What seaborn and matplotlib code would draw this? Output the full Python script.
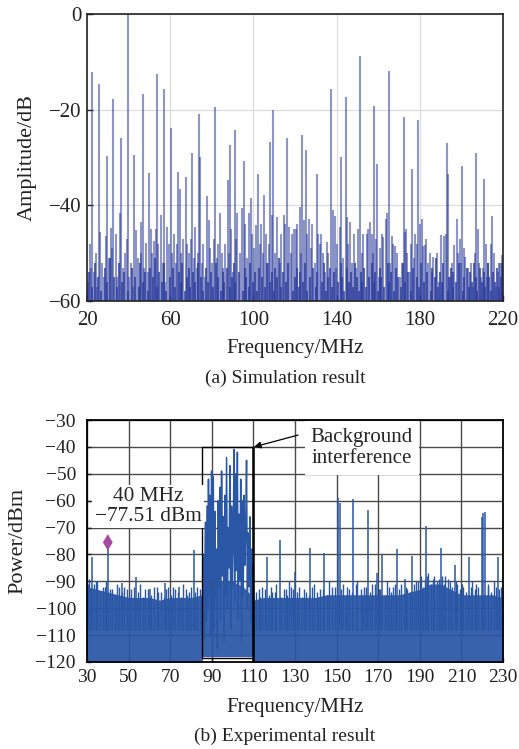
import numpy as np
import pandas as pd
import matplotlib
matplotlib.use('Agg')
import matplotlib.pyplot as plt
import seaborn as sns

# ---------------- (a) simulation spectrum ----------------
sim_major_f = [22.5, 25.6, 29.5, 32.7, 36.5, 39.6, 42.8, 46.7, 49.8, 53.5,
               56.9, 60.5, 63.7, 64.7, 67.6, 70.6, 74.0, 74.5, 77.7, 81.5,
               84.1, 87.9, 88.6, 91.0, 95.5, 98.8, 102.4, 105.1, 108.1, 109.4,
               116.3, 122.2, 123.5, 125.3, 130.4, 137.3, 142.2, 144.3, 151.3, 158.1,
               159.4, 165.0, 172.4, 176.4, 179.1, 193.2, 193.7, 200.3, 207.2, 211.0,
               214.7]
sim_major_db = [-12.1, -14.6, -29.6, -17.8, -26.0, 0.0, -29.5, -16.8, -33.2, -12.5,
                -15.6, -23.9, -33.0, -36.5, -34.0, -29.1, -21.0, -29.8, -38.0, -19.5,
                -41.7, -34.6, -27.4, -24.3, -30.7, -38.5, -33.5, -37.8, -26.7, -20.1,
                -25.9, -40.3, -25.3, -28.4, -33.5, -15.6, -30.0, -17.4, -8.7, -19.2,
                -31.4, -11.9, -21.6, -32.5, -22.2, -26.9, -33.5, -31.7, -29.0, -34.4,
                -42.2]

sim_minor_f = [20.5, 21.3, 22.0, 23.2, 24.1, 24.8, 26.3, 27.2, 28.2, 29.0,
               30.4, 31.6, 32.2, 33.8, 34.6, 35.8, 37.2, 38.4, 39.0, 40.4,
               41.3, 42.1, 43.6, 44.3, 45.8, 46.2, 47.5, 48.5, 49.2, 50.6,
               51.3, 52.4, 53.0, 54.2, 55.4, 56.3, 57.6, 58.5, 59.4, 60.9,
               61.7, 62.6, 63.3, 65.4, 66.2, 68.3, 69.1, 70.1, 71.4, 72.0,
               72.8, 73.6, 75.2, 76.0, 76.8, 78.5, 79.3, 80.3, 81.0, 82.4,
               83.2, 84.8, 85.6, 86.4, 88.1, 89.3, 90.0, 91.7, 92.3, 93.6,
               94.3, 96.2, 97.0, 98.0, 99.4, 100.5, 101.3, 103.1, 103.8, 104.5,
               106.0, 106.8, 107.4, 108.8, 110.2, 111.5, 112.7, 113.5, 114.8, 115.2,
               117.1, 117.9, 118.4, 119.5, 120.3, 121.2, 122.8, 124.3, 126.0, 126.6,
               127.7, 128.3, 129.4, 131.1, 131.9, 132.3, 133.4, 134.3, 135.4, 136.1,
               138.2, 139.3, 139.9, 140.4, 141.5, 143.1, 145.0, 145.7, 146.5, 147.6,
               148.3, 149.2, 150.4, 152.0, 152.9, 154.5, 155.1, 156.1, 156.8, 157.4,
               158.8, 160.2, 161.0, 161.9, 162.3, 163.7, 164.4, 165.8, 166.5, 167.1,
               168.2, 169.0, 170.3, 171.3, 173.1, 173.5, 174.0, 175.1, 175.8, 177.2,
               177.9, 178.5, 180.0, 180.9, 181.6, 182.5, 183.1, 184.1, 184.9, 185.8,
               186.5, 188.4, 189.2, 190.2, 191.6, 192.4, 194.5, 195.4, 196.6, 197.9,
               198.5, 199.1, 199.8, 201.4, 201.8, 203.1, 204.8, 205.7, 206.4, 207.9,
               208.5, 209.4, 210.4, 211.6, 212.3, 213.0, 214.0, 215.6, 216.4, 217.5,
               218.2, 218.6, 219.4, 219.9]
sim_minor_db = [-56, -48, -53, -54, -50, -57, -45.5, -52, -55, -46.5,
                -51, -44.8, -49, -46, -55, -41.6, -53, -50, -47, -55,
                -52, -57, -45.2, -51, -43.5, -50, -53, -47.9, -54, -45,
                -50, -47.5, -45, -48, -42, -52, -56, -44.5, -48, -50,
                -46, -52, -48, -50, -47, -48, -50, -47, -51, -44.6,
                -53, -50, -52, -48, -55, -43, -49, -52, -47, -51,
                -48, -50, -53, -48, -50, -45, -54, -47, -41.7, -50,
                -40.5, -44, -51, -41.7, -46, -49, -44.1, -48, -44, -50,
                -46, -52, -48, -42, -50, -42.4, -52, -46, -42, -43.9,
                -44.5, -50, -45.9, -45, -45, -44, -50, -43, -46, -42.8,
                -49, -43.8, -52, -46, -48, -45.9, -50, -54, -47.6, -50,
                -41, -42.2, -53, -48, -44.5, -51, -42.5, -48, -43.4, -52,
                -46, -53, -45, -50, -46, -45.9, -45, -43.4, -46, -50,
                -47, -55, -49, -46, -46.6, -42.9, -41.5, -52, -46.5, -48,
                -48.5, -50, -55, -52, -45.5, -45, -50, -54, -48, -51,
                -46, -48, -44, -42.9, -48.5, -48.3, -47, -52, -50, -54,
                -50.8, -50, -56, -46.1, -46.5, -46, -55, -52, -48.3, -42.8,
                -50, -47, -52, -49, -50.8, -53, -52, -57, -50, -45,
                -52, -55, -53, -48, -55, -52, -48, -50, -57, -54,
                -52.1, -52, -50.4, -56]

sim_base_f = [20.9, 22.6, 23.7, 25.2, 26.8, 28.6, 29.6, 31.0, 32.9, 34.2,
              35.2, 36.9, 38.0, 39.9, 41.7, 42.9, 44.8, 45.4, 47.1, 48.0,
              49.5, 50.2, 51.8, 52.8, 53.8, 54.8, 55.9, 57.1, 58.1, 59.9,
              61.3, 62.2, 64.1, 65.0, 65.9, 67.1, 67.9, 68.8, 69.6, 70.9,
              71.8, 73.2, 74.9, 75.6, 77.3, 78.1, 79.8, 80.7, 81.8, 82.8,
              84.4, 85.2, 86.0, 87.2, 88.9, 89.8, 90.5, 91.3, 93.0, 95.0,
              95.8, 96.6, 97.9, 98.4, 99.9, 100.9, 101.8, 102.8, 104.1, 105.5,
              106.4, 107.8, 109.0, 109.8, 110.6, 111.3, 112.2, 113.1, 114.2, 115.8,
              116.7, 118.8, 119.9, 120.8, 121.7, 122.4, 123.9, 124.8, 125.7, 127.2,
              128.8, 129.9, 130.7, 132.8, 133.9, 134.8, 135.8, 136.7, 137.7, 138.6,
              140.9, 141.9, 142.7, 143.6, 144.8, 146.1, 147.1, 147.9, 148.8, 149.7,
              150.8, 151.6, 152.4, 153.4, 154.0, 155.5, 157.0, 157.8, 158.4, 159.8,
              160.7, 161.5, 162.9, 164.8, 165.4, 166.1, 167.6, 168.7, 169.6, 170.8,
              171.8, 172.7, 174.5, 176.0, 176.8, 178.8, 179.5, 180.4, 182.0, 183.6,
              185.3, 186.1, 187.2, 187.9, 188.8, 189.7, 190.8, 191.2, 193.5, 194.0,
              195.0, 195.9, 196.2, 197.4, 198.9, 200.7, 201.1, 202.6, 203.6, 204.3,
              205.2, 206.0, 206.9, 207.5, 209.0, 209.8, 210.8, 211.3, 212.7, 213.5,
              214.4, 215.1, 216.0, 216.9, 217.9, 218.9, 219.6]
sim_base_db = [-54, -57, -52, -55, -58, -53, -56, -51, -55, -57,
               -52, -56, -54, -58, -53, -55, -57, -52, -56, -54,
               -58, -53, -55, -51, -57, -54, -56, -52, -58, -55,
               -53, -57, -54, -56, -52, -58, -55, -53, -57, -54,
               -56, -52, -55, -58, -53, -56, -54, -57, -52, -55,
               -58, -54, -56, -53, -57, -55, -52, -56, -54, -58,
               -53, -55, -57, -52, -56, -54, -58, -53, -55, -57,
               -52, -56, -54, -58, -53, -55, -51, -57, -54, -56,
               -52, -58, -55, -53, -57, -54, -56, -52, -58, -55,
               -53, -57, -54, -56, -52, -58, -55, -53, -57, -54,
               -56, -52, -55, -58, -53, -56, -54, -57, -52, -55,
               -58, -54, -56, -53, -57, -55, -52, -56, -54, -58,
               -53, -55, -57, -52, -56, -54, -58, -53, -55, -57,
               -52, -56, -54, -58, -53, -55, -57, -52, -56, -54,
               -58, -53, -55, -51, -57, -54, -56, -52, -58, -55,
               -53, -57, -54, -56, -52, -58, -55, -53, -57, -54,
               -56, -52, -55, -58, -53, -56, -54, -57, -52, -55,
               -58, -54, -56, -53, -57, -55, -52]
sim_floor_db = -60
sim_xticks = [20, 60, 100, 140, 180, 220]
sim_yticks = [-60, -40, -20, 0]

# ---------------- (b) experimental spectrum ----------------
exp_spike_f = [32.6, 40.0, 46.7, 53.6, 60.5, 67.5, 74.3, 81.3, 116.4, 122.8,
               130.1, 137.4, 144.1, 150.9, 151.5, 158.0, 165.2, 169.2, 172.0, 178.9,
               182.9, 186.1, 192.8, 200.0, 206.8, 213.8, 219.8, 220.5, 221.3, 227.8]
exp_spike_db = [-80.8, -77.51, -90.7, -88.3, -92.9, -90.7, -92.0, -78.3, -81.1, -74.6,
                -86.4, -77.7, -79.6, -58.9, -61.0, -59.3, -63.5, -87.0, -80.2, -78.1,
                -89.0, -80.4, -69.4, -77.7, -84.0, -80.8, -66.0, -64.5, -64.3, -80.8]

exp_fuzz_f = [31.0, 33.5, 35.0, 37.5, 42.0, 44.5, 48.0, 51.0, 55.5, 58.0,
              62.0, 65.5, 69.0, 72.5, 76.0, 79.0, 83.0, 112.5, 114.0, 119.0,
              121.0, 124.5, 127.0, 129.0, 132.0, 135.5, 139.0, 142.0, 146.5, 149.0,
              153.0, 156.0, 160.0, 163.0, 167.0, 171.0, 174.0, 177.0, 181.0, 184.0,
              188.0, 190.5, 194.0, 197.0, 199.0, 202.0, 204.5, 208.0, 211.0, 215.0,
              218.0, 223.0, 225.5, 229.0,
              30.5, 32.0, 34.2, 36.3, 38.6, 39.3, 41.0, 43.3, 45.6, 47.0,
              49.3, 50.2, 52.5, 54.4, 56.8, 59.4, 61.0, 63.5, 64.3, 66.8,
              68.2, 70.4, 71.3, 73.6, 75.2, 77.4, 78.3, 80.2, 82.0, 84.3,
              111.2, 113.3, 115.5, 117.5, 118.3, 120.2, 123.2, 125.6, 126.3, 128.2,
              131.0, 133.4, 134.5, 136.5, 138.3, 140.4, 141.2, 143.5, 145.3, 147.8,
              152.3, 154.3, 155.2, 157.3, 159.2, 161.5, 162.3, 164.2, 166.0, 168.4,
              170.3, 173.2, 175.3, 176.3, 178.2, 180.1, 182.3, 183.2, 185.5, 187.3,
              189.3, 191.5, 192.3, 193.4, 195.2, 196.3, 198.2, 200.8, 201.5, 203.4,
              205.3, 207.2, 209.3, 210.2, 212.4, 214.5, 216.3, 217.2, 222.6, 224.3,
              226.5, 228.2]
exp_fuzz_db = [-89, -91, -90, -92, -93, -91, -92, -93, -91, -93,
               -92, -94, -92, -93, -91, -94, -92, -93, -92, -94,
               -91, -93, -90, -93, -92, -94, -91, -93, -90, -92,
               -91, -93, -90, -92, -91, -93, -90, -92, -91, -93,
               -90, -88, -87, -88, -89, -88, -90, -91, -92, -90,
               -92, -91, -90, -92,
               -91, -93, -90, -94, -92, -90, -93, -95, -92, -94,
               -93, -95, -92, -94, -96, -93, -95, -92, -94, -96,
               -93, -95, -92, -94, -96, -93, -95, -92, -94, -93,
               -94, -96, -93, -95, -92, -94, -96, -93, -95, -92,
               -94, -96, -93, -95, -92, -94, -96, -93, -95, -92,
               -93, -95, -92, -94, -91, -93, -95, -92, -94, -91,
               -93, -95, -92, -94, -91, -93, -95, -92, -94, -91,
               -90, -92, -89, -88, -91, -89, -90, -88, -91, -89,
               -92, -90, -93, -91, -94, -92, -93, -91, -92, -94,
               -92, -93]

noise_left_f = [30, 35, 40, 45, 50, 55, 60, 65, 70, 75, 80, 85.5]
noise_left_top = [-92, -93, -94, -95, -96, -96, -96, -97, -96, -96, -96, -95]
noise_left_bot = [-120, -120, -120, -120, -120, -120, -120, -120, -120, -120, -120, -120]
noise_right_f = [110, 115, 120, 125, 130, 135, 140, 145, 150, 155, 160, 165, 170,
                 175, 180, 185, 190, 195, 200, 205, 210, 215, 220, 225, 230]
noise_right_top = [-97, -96, -96, -96, -96, -96, -96, -95, -95, -95, -95, -95, -95,
                   -95, -95, -94, -93, -91, -91, -93, -95, -95, -95, -95, -96]
noise_right_bot = [-120, -120, -120, -120, -120, -120, -120, -120, -120, -120, -120, -120, -120,
                   -120, -120, -120, -120, -120, -120, -120, -120, -120, -120, -120, -120]

band_f = [85.6, 86.0, 86.4, 86.9, 87.3, 87.7, 88.1, 88.4, 88.8, 89.2,
          89.5, 89.9, 90.3, 90.7, 91.1, 91.5, 91.9, 92.3, 92.7, 93.1,
          93.5, 93.9, 94.3, 94.7, 95.1, 95.5, 95.9, 96.3, 96.7, 97.1,
          97.5, 97.9, 98.3, 98.7, 99.1, 99.5, 99.9, 100.3, 100.7, 101.1,
          101.5, 101.9, 102.3, 102.7, 103.1, 103.5, 103.9, 104.3, 104.7, 105.1,
          105.5, 105.9, 106.3, 106.7, 107.1, 107.5, 107.9, 108.3, 108.7, 109.1,
          109.5, 109.9, 110.2]
band_db = [-100, -80, -112, -68, -105, -62, -100, -52, -95, -58,
           -110, -49, -90, -51, -108, -64, -96, -78, -115, -60,
           -92, -55, -104, -49, -88, -66, -112, -58, -95, -44,
           -100, -70, -85, -47, -108, -62, -92, -75, -41, -98,
           -50, -86, -42, -104, -65, -90, -52, -112, -60, -95,
           -58, -84, -70, -45, -100, -72, -92, -66, -105, -78,
           -110, -84, -100]
band_fill_f = [85.5, 90, 95, 100, 105, 110]
band_fill_top = [-96, -92, -90, -90, -92, -96]
band_fill_bot = [-118, -118, -118, -118, -118, -118]

box_f = [85.5, 110.0]
box_db = [-118.5, -40.0]
marker_f, marker_db = 40.0, -75.5
exp_spike_base = -108
exp_xticks = [30, 50, 70, 90, 110, 130, 150, 170, 190, 210, 230]
exp_yticks = [-120, -110, -100, -90, -80, -70, -60, -50, -40, -30]

# ---------------- style ----------------
sns.set_theme(style='white')
plt.rcParams['font.family'] = ['Liberation Serif', 'DejaVu Serif']
plt.rcParams['axes.unicode_minus'] = True

fig = plt.figure(figsize=(5.19, 7.49), dpi=100)
ax1 = fig.add_axes([87/519, 1-301/749, 416/519, 287/749])
ax2 = fig.add_axes([87/519, 1-662/749, 416/519, 242/749])

sim_color = '#2f3f9e'
exp_color = '#2a56a6'

# (a)
ax1.vlines(sim_base_f, sim_floor_db, sim_base_db, color='#27399a', alpha=0.75, lw=1.5, zorder=2)
ax1.vlines(sim_minor_f, sim_floor_db, sim_minor_db, color=sim_color, alpha=0.55, lw=1.5, zorder=2)
ax1.vlines(sim_major_f, sim_floor_db, sim_major_db, color=sim_color, alpha=0.55, lw=1.5, zorder=2)
ax1.set_xlim(20, 220)
ax1.set_ylim(-60, 0)
ax1.set_xticks(sim_xticks)
ax1.set_yticks(sim_yticks)
ax1.grid(True, color='#dddddd', lw=0.9, zorder=0)
ax1.set_axisbelow(True)
for s in ax1.spines.values():
    s.set_color('#222222')
    s.set_linewidth(1.2)
ax1.tick_params(direction='in', length=4, width=1, labelsize=15, colors='#222222',
                bottom=True, left=True, top=False, right=False)
ax1.tick_params(axis='x', pad=7)
ax1.tick_params(axis='y', pad=4)
ax1.set_xlabel('Frequency/MHz', fontsize=15, color='#222222')
ax1.xaxis.set_label_coords(0.5, -0.133)
ax1.set_ylabel('Amplitude/dB', fontsize=16, color='#222222')
ax1.yaxis.set_label_coords(-0.12, 0.5)

# (b)
ax2.fill_between(noise_left_f, noise_left_bot, noise_left_top, color=exp_color, alpha=0.93, lw=0, zorder=2)
ax2.fill_between(noise_right_f, noise_right_bot, noise_right_top, color=exp_color, alpha=0.93, lw=0, zorder=2)
ax2.fill_between(band_fill_f, band_fill_bot, band_fill_top, color=exp_color, alpha=0.93, lw=0, zorder=2)
ax2.vlines(exp_fuzz_f, exp_spike_base, exp_fuzz_db, color=exp_color, lw=1.0, zorder=2)
ax2.vlines(exp_spike_f, exp_spike_base, exp_spike_db, color=exp_color, lw=1.1, zorder=2)
sns.lineplot(x=band_f, y=band_db, sort=False, estimator=None, color=exp_color, lw=1.1, ax=ax2, zorder=3)
sns.scatterplot(x=[marker_f], y=[marker_db], marker='d', s=70, color='#a54aa0', edgecolor='none', ax=ax2, zorder=6)

# box around background interference
ax2.plot([box_f[0], box_f[0], box_f[1]], [box_db[0], box_db[1], box_db[1]], color='black', lw=1.0, zorder=5)
ax2.plot([box_f[0], box_f[1]], [box_db[0], box_db[0]], color='black', lw=1.0, zorder=5)
ax2.plot([box_f[1], box_f[1]], [box_db[1], -120], color='black', lw=1.8, zorder=5)

ax2.text(59.3, -62.2, '40 MHz\n\u221277.51 dBm', fontsize=15.4, ha='center', va='center',
         linespacing=1.05, zorder=7,
         bbox=dict(boxstyle='square,pad=0.12', facecolor='white', edgecolor='none'))
ax2.text(162.2, -40.4, 'Background\ninterference', fontsize=15, ha='center', va='center',
         zorder=7, bbox=dict(boxstyle='square,pad=0.3', facecolor='white', edgecolor='none'))
ax2.annotate('', xy=(110.3, -40.0), xytext=(131.5, -35.6),
             arrowprops=dict(arrowstyle='-|>', color='black', lw=0.9, mutation_scale=10,
                             shrinkA=0, shrinkB=0), zorder=8)

ax2.set_xlim(30, 230)
ax2.set_ylim(-120, -30)
ax2.set_xticks(exp_xticks)
ax2.set_yticks(exp_yticks)
ax2.grid(True, color='#4a4a4a', lw=1.0, zorder=0)
ax2.set_axisbelow(True)
for s in ax2.spines.values():
    s.set_color('black')
    s.set_linewidth(1.3)
ax2.tick_params(direction='in', length=3, width=1, labelsize=14, colors='#222222',
                bottom=True, left=True, top=False, right=False)
ax2.tick_params(axis='x', pad=5)
ax2.tick_params(axis='y', pad=8)
ax2.set_xlabel('Frequency/MHz', fontsize=15, color='#222222')
ax2.xaxis.set_label_coords(0.5, -0.15)
ax2.set_ylabel('Power/dBm', fontsize=16, color='#222222')
ax2.yaxis.set_label_coords(-0.143, 0.5)

fig.text(285/519, 1-378/749, '(a) Simulation result', fontsize=14, ha='center', va='center', color='#222222')
fig.text(285/519, 1-736/749, '(b) Experimental result', fontsize=14, ha='center', va='center', color='#222222')

fig.savefig('out.png', dpi=100)
